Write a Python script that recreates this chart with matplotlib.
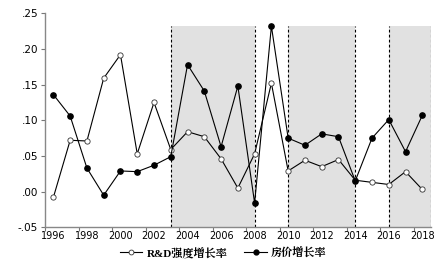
import numpy as np
import matplotlib.pyplot as plt

years = np.arange(1996, 2019)

# R&D intensity growth (hollow markers)
rd = [-0.008, 0.072, 0.071, 0.159, 0.192, 0.053, 0.125, 0.059, 0.084, 0.077,
      0.046, 0.005, 0.053, 0.152, 0.029, 0.044, 0.035, 0.045, 0.016, 0.013,
      0.010, 0.028, 0.003]

# house price growth (filled markers)
hp = [0.136, 0.106, 0.033, -0.005, 0.029, 0.028, 0.037, 0.049, 0.178, 0.141,
      0.063, 0.148, -0.016, 0.232, 0.075, 0.065, 0.081, 0.077, 0.015, 0.075,
      0.101, 0.056, 0.107]

shade = [(2003, 2008), (2010, 2014), (2016, 2018.5)]
yticks = [-0.05, 0.00, 0.05, 0.10, 0.15, 0.20, 0.25]
ytick_labels = ['-.05', '.00', '.05', '.10', '.15', '.20', '.25']

fig = plt.figure(figsize=(4.47, 2.68), dpi=100)
ax = fig.add_axes([45/447, 1-227.3/268, (430.7-45)/447, (227.3-13.3)/268])

top = max(hp)
for a, b in shade:
    ax.fill_between([a, b], -0.05, top, color='#e1e1e1', lw=0, zorder=0)
    for x in (a, b):
        ax.plot([x, x], [-0.05, top], ls=(0, (2.5, 2)), color='black', lw=0.8, zorder=1)

ax.plot(years, rd, '-o', color='black', lw=0.8, ms=3.8, mfc='white', mec='#333333',
        mew=0.6, label='R&D强度增长率', zorder=3)
ax.plot(years, hp, '-o', color='black', lw=0.8, ms=3.8, mfc='black', mec='black',
        label='房价增长率', zorder=3)

ax.set_xlim(1995.5, 2018.5)
ax.set_ylim(-0.05, 0.25)
ax.set_yticks(yticks)
ax.set_yticklabels(ytick_labels)
ax.set_xticks(np.arange(1995.5, 2018.6, 2))
ax.set_xticklabels([])
ax.set_xticks(np.arange(1996, 2019, 2), minor=True)
ax.set_xticklabels([str(y) for y in range(1996, 2019, 2)], minor=True)
ax.tick_params(axis='x', which='minor', length=0, labelsize=7, pad=3)
ax.tick_params(axis='x', which='major', length=3, color='#777777')
ax.tick_params(axis='y', length=3, color='#777777', labelsize=7.5, pad=2)

for s in ['top', 'right']:
    ax.spines[s].set_visible(False)
for s in ['left', 'bottom']:
    ax.spines[s].set_color('#888888')
    ax.spines[s].set_linewidth(1.0)

leg = fig.legend(loc='lower center', ncol=2, frameon=False, bbox_to_anchor=(0.5, 0.0),
                 handlelength=2.0, columnspacing=1.5, handletextpad=0.4,
                 prop={'family': ['Liberation Serif', 'Noto Serif CJK SC', 'Noto Sans CJK SC'],
                       'size': 8, 'weight': 'bold'})
for h in leg.legend_handles:
    h.set_markersize(3.5)

fig.savefig('out.png', dpi=100)
